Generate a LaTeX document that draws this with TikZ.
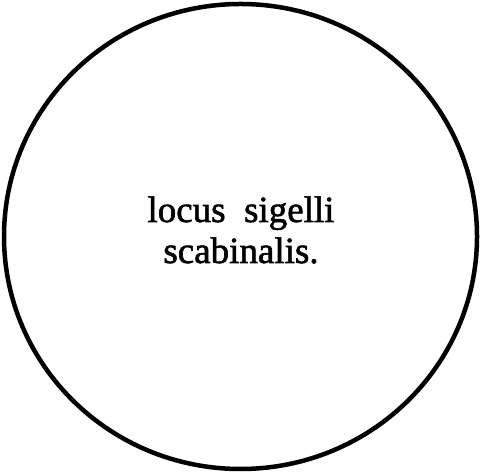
\documentclass[tikz,border=0pt]{standalone}
\usepackage{fontspec}
\setmainfont{Liberation Serif}[FakeBold=1.6]
\usetikzlibrary{positioning}

\begin{document}
\begin{tikzpicture}[x=1pt,y=1pt,
  seal/.style={line width=4.5pt, draw=black},
  legend/.style={font=\fontsize{37}{41}\selectfont, anchor=base, inner sep=0pt}
]
\useasboundingbox (0,0) rectangle (481,473);

% seal outline
\draw[seal] (240.5,236.5) ellipse [x radius=236.5, y radius=232.5];

% legend inside
\node[legend] (line1) at (241,251) {locus\ \ sigelli};
\node[legend] (line2) at (241,210) {scabinalis.};

\end{tikzpicture}
\end{document}
